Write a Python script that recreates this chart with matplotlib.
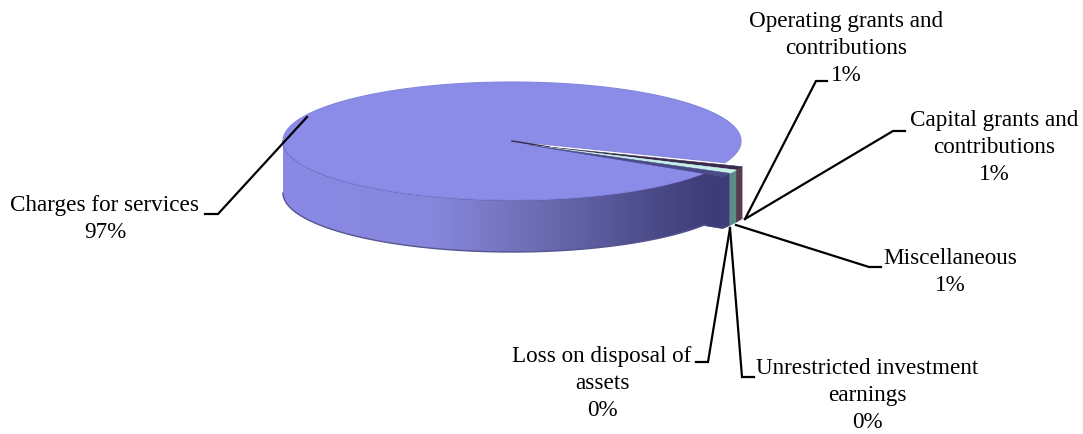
import matplotlib
matplotlib.use("Agg")
import matplotlib.pyplot as plt
from matplotlib.patches import Polygon
import numpy as np

plt.rcParams['font.family'] = ['Liberation Serif', 'DejaVu Sans']

labels = ["Charges for services\n97%",
          "Operating grants and\ncontributions\n1%",
          "Capital grants and\ncontributions\n1%",
          "Miscellaneous\n1%",
          "Unrestricted investment\nearnings\n0%",
          "Loss on disposal of\nassets\n0%"]
values = [97, 1, 1, 1, 0, 0]
top_colors = ["#8a8ce8", "#3a2a50", "#c8f0ea", "#4a4a88"]
side_colors = [None, "#5a3c50", "#5c8c88", "#3e3c78"]

# label anchor and leader line vertices, in pixels
label_pos = [(105, 195), (846, 11), (994, 110), (950, 248), (867, 358), (602, 346)]
leaders = [[(205, 214), (218, 214), (307, 117)],
           [(827, 81), (816, 81), (745, 219)],
           [(905, 131), (893, 131), (745, 219)],
           [(881, 267), (869, 267), (736, 225)],
           [(754, 377), (742, 377), (730, 228)],
           [(696, 362), (708, 362), (730, 228)]]

cx, cy, rx, ry, depth = 512, 141, 229, 59, 52
start = -21.5
explode = (17, 4)

fig = plt.figure(figsize=(10.83, 4.34), dpi=100)
ax = fig.add_axes([0, 0, 1, 1])


def rim(a0, a1, off=(0, 0)):
    t = np.radians(np.linspace(a0, a1, max(int(abs(a1 - a0) * 2), 2)))
    return np.column_stack((cx + off[0] + rx * np.cos(t), cy + off[1] - ry * np.sin(t)))


def side_poly(a0, a1, off=(0, 0)):
    r = rim(a0, a1, off)
    return np.vstack((r, r[::-1] + [0, depth]))


def top_poly(a0, a1, off=(0, 0)):
    return np.vstack(([cx + off[0], cy + off[1]], rim(a0, a1, off)))


sweeps = np.array(values) / sum(values) * 360
a_main1 = start + sweeps[0]
a_wall = 360 + start - sweeps[1:].sum()

# main slice wall with a left-to-right shade
stops = [0.0, 0.35, 0.55, 0.8, 1.0]
cols = np.array([[0x8a, 0x8a, 0xe6], [0x86, 0x86, 0xdc], [0x70, 0x70, 0xb8],
                 [0x50, 0x50, 0x90], [0x3c, 0x3a, 0x74]]) / 255
xs = np.linspace(0, 1, 256)
shade = np.stack([np.interp(xs, stops, cols[:, i]) for i in range(3)], axis=1)[None, :, :]
im = ax.imshow(shade, extent=(283, 722, 260, 80), aspect='auto', zorder=2)
patch = Polygon(side_poly(180, a_wall), closed=True, fc='none', ec='none', zorder=2)
ax.add_patch(patch)
im.set_clip_path(patch)
ax.plot(*rim(180, a_wall).T, color="#45458c", lw=1, zorder=3)
ax.plot(*(rim(180, a_wall) + [0, depth]).T, color="#55558f", lw=1, zorder=3)

# main slice top face
ax.add_patch(Polygon(top_poly(start, a_main1), closed=True, fc=top_colors[0],
                     ec="#8486de", lw=0.8, zorder=3))

# the small slices are pulled out from the pie, cut face sits behind the main wall
a = start
for i in [1, 2, 3]:
    b = a - sweeps[i]
    if i == 3:
        p = rim(b, b, explode)[0]
        c = np.array([cx + explode[0], cy + explode[1]])
        ax.add_patch(Polygon([c, p, p + [0, depth], c + [0, depth]], closed=True,
                             fc=side_colors[3], ec=side_colors[3], lw=0.5, zorder=1))
    ax.add_patch(Polygon(side_poly(b, a, explode), closed=True, fc=side_colors[i],
                         ec=side_colors[i], lw=0.5, zorder=4 + (3 - i)))
    ax.add_patch(Polygon(top_poly(b, a, explode), closed=True, fc=top_colors[i],
                         ec=top_colors[i], lw=0.4, zorder=8))
    a = b

# dark seam from the pie centre out to the pulled slices
ax.plot([cx, cx + explode[0] + 20], [cy, cy + explode[1] + 2], color=top_colors[1], lw=1, zorder=7)

for pts in leaders:
    ax.plot(*zip(*pts), color='black', lw=1.6, solid_joinstyle='miter', zorder=9)

for txt, (x, y) in zip(labels, label_pos):
    ax.text(x, y, txt, ha='center', va='top', fontsize=16.7, color='black',
            linespacing=1.36, zorder=10)

ax.set_xlim(0, 1083)
ax.set_ylim(434, 0)
ax.axis('off')

fig.savefig("out.png", dpi=100)
